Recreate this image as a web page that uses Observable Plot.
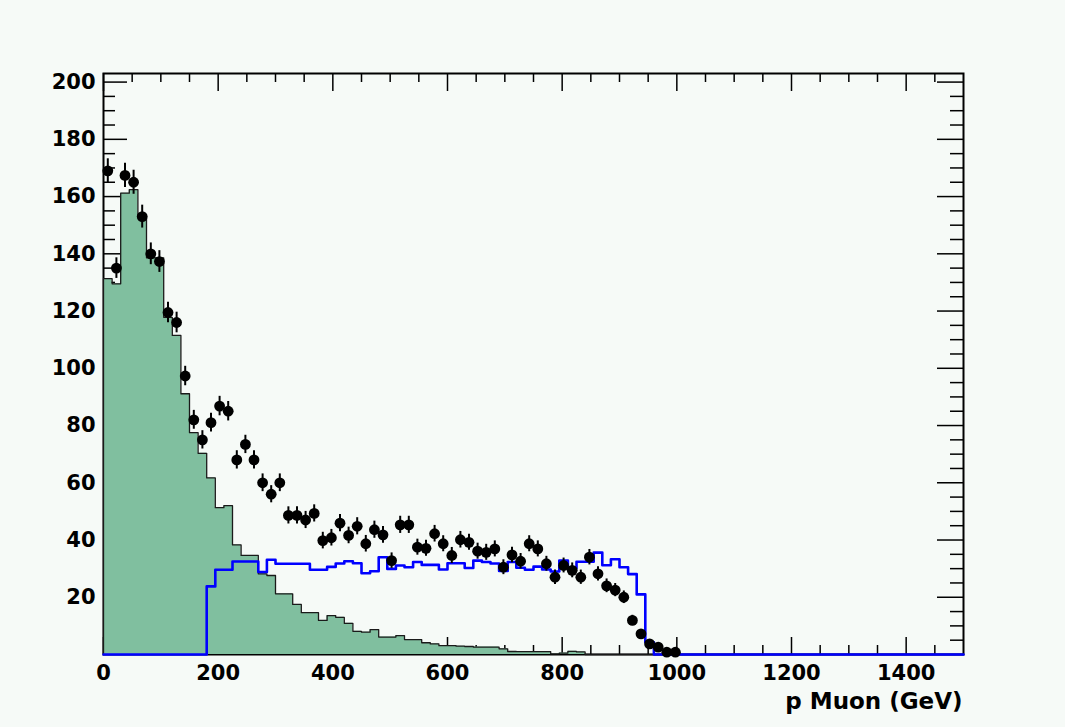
<!DOCTYPE html>
<html>
<head>
<meta charset="utf-8">
<script src="https://cdn.jsdelivr.net/npm/d3@7"></script>
<script src="https://cdn.jsdelivr.net/npm/@observablehq/plot@0.6"></script>
<style>
  html, body { margin: 0; padding: 0; background: #f6faf7; overflow: hidden; }
  #chart svg { display: block; }
</style>
</head>
<body>
<div id="chart"></div>
<script>
// ---- Data ----
const binStart = 0;      // GeV, first bin low edge
const binWidth = 15;     // GeV per bin

// Background MC (green filled histogram), bins 0..55
const mcBackground = [
  131.3, 129.5, 161.2, 162.4, 153.0, 138.6, 138.6, 117.8, 111.5, 91.1,
  77.5, 70.3, 61.7, 51.3, 52.0, 38.3, 34.6, 34.6, 28.2, 27.6,
  21.2, 21.2, 17.5, 14.6, 14.6, 11.9, 13.6, 13.0, 10.9, 8.1,
  7.8, 8.7, 6.1, 6.1, 6.6, 5.2, 5.2, 4.1, 3.7, 3.1,
  3.1, 2.9, 2.8, 2.6, 2.6, 2.6, 2.0, 1.05, 1.0, 1.0,
  1.0, 1.0, 0.2, 0.5, 1.1, 0.9
];

// Signal MC (blue outline histogram), bins 0..63
const mcSignal = [
  0, 0, 0, 0, 0, 0, 0, 0, 0, 0,
  0, 0, 23.8, 29.6, 29.6, 32.5, 32.5, 32.5, 28.8, 33.1,
  31.7, 31.7, 31.7, 31.7, 29.6, 29.6, 30.6, 31.8, 32.6, 31.9,
  28.4, 29.1, 34.0, 29.9, 31.1, 30.5, 32.3, 31.3, 31.3, 29.7,
  31.9, 31.9, 30.2, 32.8, 32.3, 31.8, 29.2, 32.3, 30.3, 29.6,
  30.7, 29.7, 29.0, 32.8, 30.1, 32.4, 32.4, 35.6, 31.2, 33.3,
  30.5, 28.1, 21.0, 4.3
];

// Data points (bin contents), bins 0..66
const dataCounts = [
  169.0, 135.0, 167.4, 165.0, 153.0, 140.0, 137.3, 119.5, 116.0, 97.3,
  82.0, 75.0, 81.0, 86.8, 85.0, 68.0, 73.4, 68.0, 60.0, 56.0,
  60.0, 48.6, 48.6, 47.0, 49.3, 39.8, 40.8, 45.9, 41.6, 44.8,
  38.7, 43.6, 41.8, 32.8, 45.3, 45.3, 37.5, 37.1, 42.2, 38.7,
  34.6, 40.1, 39.2, 36.1, 35.7, 36.9, 30.5, 34.8, 32.6, 38.7,
  36.9, 31.7, 27.0, 31.1, 29.4, 27.0, 34.0, 28.2, 24.0, 22.5,
  20.0, 11.9, 7.2, 3.7, 2.6, 0.8, 0.8
];

// Data point errors, bins 0..66
const dataErrors = [
  4.2, 3.6, 4.2, 4.2, 4.0, 3.8, 3.8, 3.6, 3.6, 3.4,
  3.3, 3.2, 3.3, 3.4, 3.4, 3.2, 3.2, 3.2, 3.1, 3.0,
  3.1, 3.0, 3.0, 3.0, 3.0, 2.9, 2.9, 3.0, 2.9, 3.0,
  2.9, 3.0, 2.9, 2.7, 3.0, 3.0, 2.8, 2.8, 2.9, 2.8,
  2.8, 2.9, 2.8, 2.8, 2.8, 2.8, 2.6, 2.7, 2.7, 2.8,
  2.8, 2.6, 2.5, 2.6, 2.6, 2.5, 2.7, 2.5, 2.4, 2.3,
  2.2, 1.8, 1.5, 1.0, 0.8, 0.5, 0.5
];

const xMin = 0, xMax = 1500;
const yMin = 0, yMax = 203;
const xTickLabels = [0, 200, 400, 600, 800, 1000, 1200, 1400];
const yTickLabels = [20, 40, 60, 80, 100, 120, 140, 160, 180, 200];
const xMinorTicks = [50, 100, 150, 250, 300, 350, 450, 500, 550, 650, 700, 750, 850, 900, 950, 1050, 1100, 1150, 1250, 1300, 1350, 1450];
const yMinorTicks = [5, 10, 15, 25, 30, 35, 45, 50, 55, 65, 70, 75, 85, 90, 95, 105, 110, 115, 125, 130, 135, 145, 150, 155, 165, 170, 175, 185, 190, 195];
const xTitle = "p Muon (GeV)";

// ---- Build step tables from histograms ----
function stepTable(values) {
  const pts = [{x: binStart, y: 0}];
  values.forEach((v, k) => {
    pts.push({x: binStart + k * binWidth, y: v});
    pts.push({x: binStart + (k + 1) * binWidth, y: v});
  });
  pts.push({x: binStart + values.length * binWidth, y: 0});
  pts.push({x: xMax, y: 0});
  return pts;
}
const greenSteps = stepTable(mcBackground);
const blueSteps = stepTable(mcSignal);
const points = dataCounts.map((v, i) => ({
  x: binStart + (i + 0.5) * binWidth, y: v, lo: v - dataErrors[i], hi: v + dataErrors[i]
}));

// ---- Layout ----
const W = 1065, H = 727;
const mL = 103, mR = 102, mT = 73, mB = 73;
const pw = W - mL - mR, ph = H - mT - mB;
const font = {fontFamily: "DejaVu Sans", fontWeight: "bold", fontSize: 21, fill: "black"};

const chart = Plot.plot({
  width: W, height: H,
  marginLeft: mL, marginRight: mR, marginTop: mT, marginBottom: mB,
  x: {domain: [xMin, xMax], axis: null},
  y: {domain: [yMin, yMax], axis: null},
  style: {background: "#f6faf7", fontFamily: "DejaVu Sans", fontWeight: "bold", fontSize: "21px", color: "black"},
  marks: [
    // ticks (left/right/bottom/top)
    Plot.tickY(yTickLabels, {y: d => d, stroke: "black", strokeWidth: 1.5, insetRight: pw - 24}),
    Plot.tickY(yMinorTicks, {y: d => d, stroke: "black", strokeWidth: 1.5, insetRight: pw - 12}),
    Plot.tickY(yTickLabels, {y: d => d, stroke: "black", strokeWidth: 1.5, insetLeft: pw - 26}),
    Plot.tickY(yMinorTicks, {y: d => d, stroke: "black", strokeWidth: 1.5, insetLeft: pw - 13}),
    Plot.tickX(xTickLabels, {x: d => d, stroke: "black", strokeWidth: 1.5, insetTop: ph - 17}),
    Plot.tickX(xMinorTicks, {x: d => d, stroke: "black", strokeWidth: 1.5, insetTop: ph - 9}),
    Plot.tickX(xTickLabels, {x: d => d, stroke: "black", strokeWidth: 1.5, insetBottom: ph - 18}),
    Plot.tickX(xMinorTicks, {x: d => d, stroke: "black", strokeWidth: 1.5, insetBottom: ph - 9}),
    Plot.frame({stroke: "black", strokeWidth: 2}),
    // green background histogram
    Plot.areaY(greenSteps, {x: "x", y1: 0, y2: "y", fill: "#80bf9f", curve: "linear"}),
    Plot.line(greenSteps, {x: "x", y: "y", stroke: "#1a1a1a", strokeWidth: 1.3, curve: "linear"}),
    // blue signal histogram
    Plot.line(blueSteps, {x: "x", y: "y", stroke: "#0000ff", strokeWidth: 2.6, curve: "linear"}),
    // data points with errors
    Plot.ruleX(points, {x: "x", y1: "lo", y2: "hi", stroke: "black", strokeWidth: 2}),
    Plot.dot(points, {x: "x", y: "y", r: 5.4, fill: "black", stroke: null}),
    // tick labels
    Plot.text(yTickLabels, {y: d => d, text: d => String(d), frameAnchor: "left", dx: -8, textAnchor: "end", lineAnchor: "middle", ...font}),
    Plot.text(xTickLabels, {x: d => d, text: d => String(d), frameAnchor: "bottom", dy: 11, textAnchor: "middle", lineAnchor: "top", ...font}),
    Plot.text([xTitle], {text: d => d, frameAnchor: "bottom-right", dy: 54, dx: -1, textAnchor: "end", lineAnchor: "bottom", ...font, fontSize: 23})
  ]
});
document.getElementById("chart").appendChild(chart);
</script>
</body>
</html>
